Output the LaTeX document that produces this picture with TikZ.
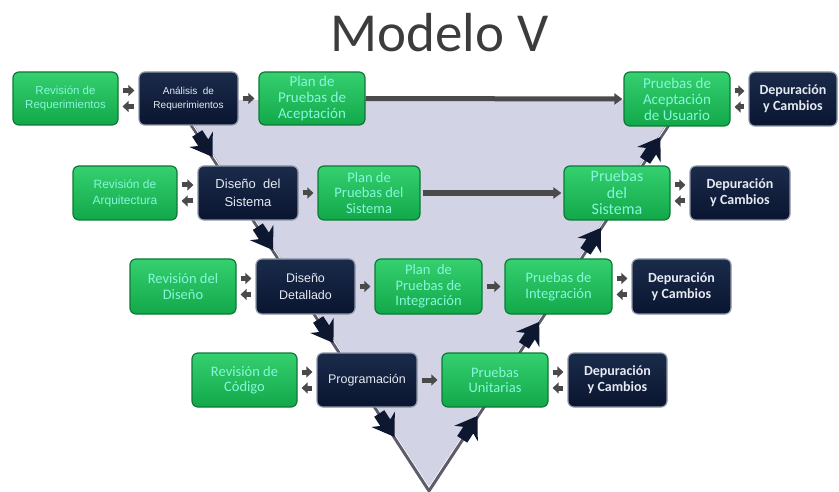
\documentclass[tikz,border=0pt]{standalone}
\usepackage{fontspec}
\setmainfont{Carlito}
\newfontfamily\arialf{Liberation Sans}
\usetikzlibrary{arrows.meta,calc}
\definecolor{gtop}{HTML}{35D070}
\definecolor{gbot}{HTML}{12A84A}
\definecolor{gedge}{HTML}{0C7A36}
\definecolor{gtext}{HTML}{86F7DA}
\definecolor{dtop}{HTML}{1A2B4A}
\definecolor{dbot}{HTML}{0A1530}
\definecolor{dedge}{HTML}{8E97A8}
\definecolor{dtext}{HTML}{E6EAF2}
\definecolor{lav}{HTML}{D3D3E6}
\definecolor{vedge}{HTML}{5C5C6A}
\definecolor{arrgray}{HTML}{4A4A4A}
\definecolor{navy}{HTML}{0D1830}
\definecolor{titlegray}{HTML}{3C3C3C}
\tikzset{
  gbox/.style={rounded corners=6pt, top color=gtop, bottom color=gbot, draw=gedge, line width=1.2pt, text=gtext, align=center, inner sep=1pt},
  dbox/.style={rounded corners=6pt, top color=dtop, bottom color=dbot, draw=dedge, line width=1.2pt, text=dtext, align=center, inner sep=1pt},
  cf/.style={font=\fontsize{14.5}{15.5}\selectfont},
  depf/.style={font=\bfseries\fontsize{14}{16}\selectfont},
  af/.style={font=\arialf\fontsize{#1}{14}\selectfont},
  sarrow/.style={draw=arrgray, line width=5pt, -{Triangle[length=6pt,width=11pt]}},
  larrow/.style={draw=arrgray, line width=5pt, -{Triangle[length=8pt,width=11pt]}},
  vline/.style={draw=vedge, line width=4pt},
  vhl/.style={draw=white!85!lav, line width=1pt},
  bigtip/.pic={\fill[navy] (0,0) -- (-21,-14) -- (-17,-6) -- (-28,-6) -- (-28,6) -- (-17,6) -- (-21,14) -- cycle;}
}
\begin{document}
\begin{tikzpicture}[x=1pt,y=-1pt]
\useasboundingbox (0,0) rectangle (839,492);
% title
\node[anchor=base, text=titlegray, font=\fontsize{55}{60}\selectfont] (title) at (439.5,52) {Modelo V};
% V shape
\coordinate (TL) at (175.5,100);
\coordinate (TR) at (684.7,100);
\coordinate (AP) at (429,490);
\fill[lav] (TL) -- (TR) -- (AP) -- cycle;
\draw[vline] (TL) -- (AP) -- (TR);
\draw[vhl] ($(TL)+(1.5,0)$) -- ($(AP)+(0,-3)$) -- ($(TR)+(-1.5,0)$);
% big arrows on the V
\foreach \t in {0.146,0.385,0.623,0.864}
  \pic[rotate=-56.97] at ($(TL)!\t!(AP)$) {bigtip};
\foreach \t in {0.095,0.328,0.569,0.810}
  \pic[rotate=56.75] at ($(TR)!\t!(AP)$) {bigtip};
% Row 1
\node[gbox, af=11.5, minimum width=105pt, minimum height=53pt] (revreq) at (65.5,98.5) {Revisión de\\Requerimientos};
\node[dbox, af=10, minimum width=99pt, minimum height=53pt] (anreq) at (188.5,98.5) {Análisis\ \ de\\Requerimientos};
\node[gbox, font=\fontsize{15}{16}\selectfont, minimum width=106pt, minimum height=53pt] (planacep) at (312,98.5) {Plan de\\Pruebas de\\Aceptación};
\node[gbox, font=\fontsize{15}{16}\selectfont, minimum width=106pt, minimum height=54pt] (prueacep) at (677,99) {Pruebas de\\Aceptación\\de Usuario};
\node[dbox, depf, minimum width=88pt, minimum height=54pt] (dep1) at (793,99) {Depuración\\y Cambios};
% Row 2
\node[gbox, font=\arialf\fontsize{12}{16}\selectfont, minimum width=104pt, minimum height=54pt] (revarq) at (125,193) {Revisión de\\Arquitectura};
\node[dbox, font=\arialf\fontsize{13}{18}\selectfont, minimum width=100pt, minimum height=54pt] (dissis) at (248,193) {Diseño\ \ del\\Sistema};
\node[gbox, cf, minimum width=102pt, minimum height=54pt] (plansis) at (369,193) {Plan de\\Pruebas del\\Sistema};
\node[gbox, font=\fontsize{16}{16.5}\selectfont, minimum width=106pt, minimum height=54pt] (pruesis) at (617,193) {Pruebas\\del\\Sistema};
\node[dbox, depf, minimum width=100pt, minimum height=54pt] (dep2) at (740,193) {Depuración\\y Cambios};
% Row 3
\node[gbox, cf, minimum width=106pt, minimum height=55pt] (revdis) at (183,286.5) {Revisión del\\Diseño};
\node[dbox, font=\arialf\fontsize{12.5}{17}\selectfont, minimum width=99pt, minimum height=55pt] (disdet) at (305.5,286.5) {Diseño\\Detallado};
\node[gbox, cf, minimum width=107pt, minimum height=55pt] (planint) at (428.5,286.5) {Plan\ \ de\\Pruebas de\\Integración};
\node[gbox, cf, minimum width=107pt, minimum height=55pt] (prueint) at (558.5,286.5) {Pruebas de\\Integración};
\node[dbox, depf, minimum width=99pt, minimum height=55pt] (dep3) at (681.5,286.5) {Depuración\\y Cambios};
% Row 4
\node[gbox, cf, minimum width=105pt, minimum height=54pt] (revcod) at (244.5,380) {Revisión de\\Código};
\node[dbox, af=12.5, minimum width=100pt, minimum height=54pt] (prog) at (367,380) {Programación};
\node[gbox, cf, minimum width=106pt, minimum height=54pt] (prueuni) at (495,380) {Pruebas\\Unitarias};
\node[dbox, depf, minimum width=99pt, minimum height=54pt] (dep4) at (617.5,380) {Depuración\\y Cambios};
% double small arrows
\foreach \a/\b in {revreq/anreq, prueacep/dep1, revarq/dissis, pruesis/dep2, revdis/disdet, prueint/dep3, revcod/prog, prueuni/dep4}{
  \draw[sarrow] ([xshift=4pt,yshift=8pt]\a.east) -- ([xshift=-4pt,yshift=8pt]\b.west);
  \draw[sarrow] ([xshift=-4pt,yshift=-8pt]\b.west) -- ([xshift=4pt,yshift=-8pt]\a.east);
}
% single small arrows
\foreach \a/\b in {anreq/planacep, dissis/plansis, disdet/planint, planint/prueint, prog/prueuni}
  \draw[sarrow] ([xshift=4pt]\a.east) -- ([xshift=-4pt]\b.west);
% long arrows
\draw[larrow] (planacep.east) -- ([xshift=-1pt]prueacep.west);
\draw[larrow, line width=6pt] ([xshift=2pt]plansis.east) -- ([xshift=-2pt]pruesis.west);
\end{tikzpicture}
\end{document}
